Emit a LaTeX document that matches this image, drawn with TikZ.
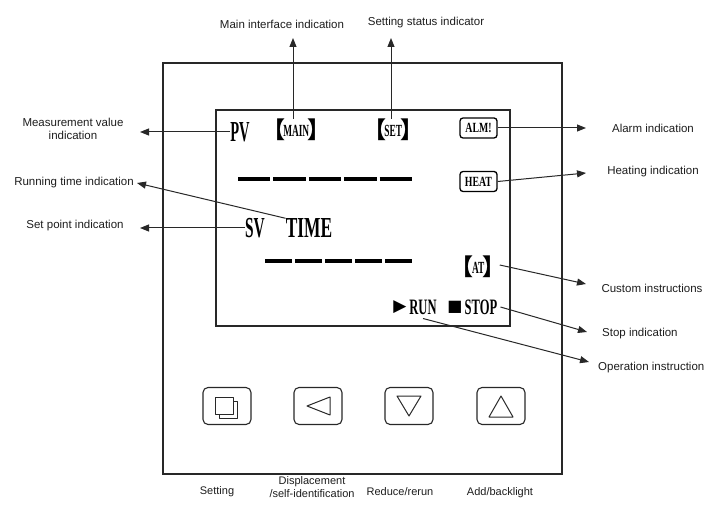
\documentclass[tikz,border=0pt]{standalone}
\usepackage{fontspec}
\usepackage{graphicx}
\setmainfont{Liberation Sans}
\newfontfamily\lcdfont{Liberation Serif}
\newfontfamily\cjkfont{Noto Sans CJK SC}
\newfontfamily\symfont{DejaVu Sans}
\usetikzlibrary{arrows.meta}
\newcommand{\narrow}[2][0.57]{\scalebox{#1}[1]{#2}}
\newcommand{\tagtext}[1]{{\cjkfont\fontsize{23}{23}\selectfont\hspace{-0.5em}【\hspace{-0.08em}}\raisebox{2.5pt}{\narrow[0.55]{#1}}{\cjkfont\fontsize{23}{23}\selectfont\hspace{-0.08em}】\hspace{-0.5em}}}
\definecolor{lineColor}{RGB}{40,40,40}
\definecolor{textColor}{RGB}{30,30,30}
\tikzset{
  frame/.style={draw=lineColor,line width=1.1pt},
  lbl/.style={text=textColor,font=\fontsize{11.5}{13}\selectfont,inner sep=0pt,align=center},
  keylbl/.style={text=textColor,font=\fontsize{11}{12.5}\selectfont,inner sep=0pt,align=center},
  lcdbig/.style={text=black,font=\lcdfont\bfseries\fontsize{29}{29}\selectfont,inner sep=0pt},
  lcdtag/.style={text=black,font=\lcdfont\bfseries\fontsize{17}{17}\selectfont,inner sep=0pt},
  lcdrun/.style={text=black,font=\lcdfont\bfseries\fontsize{22}{22}\selectfont,inner sep=0pt},
  tagbox/.style={draw=black,line width=1.3pt,rounded corners=3pt,minimum width=37pt,
    minimum height=20pt,inner sep=0pt,font=\lcdfont\bfseries\fontsize{14}{14}\selectfont},
  seg/.style={draw=black,line width=4pt},
  btn/.style={draw=lineColor,line width=1.1pt,rounded corners=5pt,minimum width=48pt,minimum height=37pt},
  icon/.style={draw=lineColor,line width=1pt,line join=round},
  arr/.style={draw=lineColor,line width=1pt,-{Triangle[length=9pt,width=7pt]}}
}
\begin{document}
\begin{tikzpicture}[x=1pt,y=1pt]
\path[use as bounding box,fill=white] (0,0) rectangle (707,504);

% panel and display window
\draw[frame] (163,30) rectangle (562,441);
\draw[frame,line width=1.3pt] (216,178) rectangle (510,394);

% display contents
\node[lcdbig] (pv) at (240,372) {\narrow[0.5]{PV}};
\node[lcdtag] (main) at (302,374) {\tagtext{MAIN}};
\node[lcdtag] (set) at (399,374) {\tagtext{SET}};
\node[tagbox] (alm) at (478.5,376) {\narrow[0.7]{ALM!}};
\node[tagbox] (heat) at (478.5,322.5) {\narrow[0.7]{HEAT}};
\foreach \i in {0,...,4}
  \draw[seg] (238+\i*35.4,325) -- ++(32.4,0);
\node[lcdbig] (sv) at (255,276) {\narrow[0.53]{SV}};
\node[lcdbig] (time) at (309,276) {\narrow[0.6]{TIME}};
\foreach \i in {0,...,4}
  \draw[seg] (265+\i*30,243) -- ++(27,0);
\node[lcdtag] (at) at (484,237) {\tagtext{AT}};
\node[text=black,font=\symfont\fontsize{17}{17}\selectfont,inner sep=0pt] (play) at (400,197) {▶};
\node[lcdrun] (run) at (423,197) {\narrow{RUN}};
\node[text=black,font=\symfont\fontsize{16}{16}\selectfont,inner sep=0pt] (stopsq) at (455,197) {■};
\node[lcdrun] (stop) at (481,197) {\narrow{STOP}};

% keys
\foreach \x/\n in {227/bset,318/bleft,409/bdown,501/bup}
  \node[btn] (\n) at (\x,98) {};
\draw[icon] ([shift={(-8,-12)}]bset.center) rectangle ++(18,17);
\draw[icon,fill=white] ([shift={(-12,-8)}]bset.center) rectangle ++(18,17);
\draw[icon] ([shift={(-11,0)}]bleft.center) -- ++(23,9) -- ++(0,-18) -- cycle;
\draw[icon] ([shift={(-12,10)}]bdown.center) -- ++(24,0) -- ++(-12,-20) -- cycle;
\draw[icon] ([shift={(-12,-11)}]bup.center) -- ++(24,0) -- ++(-12,21) -- cycle;

% key captions
\node[keylbl] (lset) at (217,12) {Setting};
\node[keylbl] (lleft) at (312,17) {Displacement\\/self-identification};
\node[keylbl] (ldown) at (400,12) {Reduce/rerun};
\node[keylbl] (lup) at (500,11) {Add/backlight};

% top callouts
\coordinate (maintip) at (293,466);
\coordinate (settip) at (391,466);
\draw[arr] (main.north -| maintip) -- (maintip);
\draw[arr] (set.north -| settip) -- (settip);
\node[lbl] (lmain) at (282,480) {Main interface indication};
\node[lbl] (lsetst) at (426,481) {Setting status indicator};

% left callouts
\coordinate (mvtip) at (140,372);
\coordinate (rttip) at (137,321);
\coordinate (sptip) at (140,276);
\draw[arr] (pv.west) -- (mvtip);
\draw[arr] (time.north west) -- (rttip);
\draw[arr] (sv.west) -- (sptip);
\node[lbl] (lmv) at (73,375) {Measurement value\\indication};
\node[lbl,anchor=east] (lrt) at (134,321) {Running time indication};
\node[lbl] (lsp) at (75,278) {Set point indication};

% right callouts
\coordinate (almtip) at (586,376);
\coordinate (heattip) at (586,331);
\coordinate (attip) at (586,220);
\coordinate (stoptip) at (587,172);
\coordinate (optip) at (589,142);
\draw[arr] (alm.east) -- (almtip);
\draw[arr] (heat.east) -- (heattip);
\draw[arr] ([xshift=-6pt,yshift=2pt]at.east) -- (attip);
\draw[arr] ([xshift=3pt]stop.east) -- (stoptip);
\draw[arr] ([yshift=-4pt]run.south) -- (optip);
\node[lbl] (lalm) at (653,376) {Alarm indication};
\node[lbl] (lheat) at (653,332) {Heating indication};
\node[lbl] (lat) at (652,216) {Custom instructions};
\node[lbl,anchor=west] (lstop) at (602,170) {Stop indication};
\node[lbl,anchor=west] (lop) at (598,136) {Operation instruction};
\end{tikzpicture}
\end{document}
